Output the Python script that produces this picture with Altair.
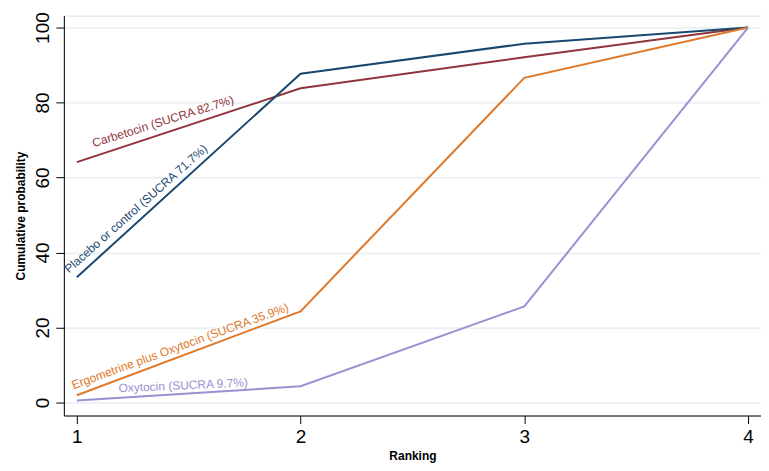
import altair as alt
import pandas as pd

ranks = [1, 2, 3, 4]
treatments = ["Carbetocin", "Placebo or control", "Ergometrine plus Oxytocin", "Oxytocin"]
carbetocin = [64.1, 83.8, 92.1, 100]
placebo = [33.4, 87.7, 95.7, 100]
ergometrine = [1.9, 24.3, 86.6, 100]
oxytocin = [0.5, 4.3, 25.6, 100]
colors = ["#90353B", "#1A476F", "#E0782A", "#9B90D2"]

label_texts = ["Carbetocin (SUCRA 82.7%)", "Placebo or control (SUCRA 71.7%)",
               "Ergometrine plus Oxytocin (SUCRA 35.9%)", "Oxytocin  (SUCRA 9.7%)"]
label_x = [1.076, 0.965, 0.985, 1.187]
label_y = [68.1, 34.4, 3.5, 2.7]
label_angle = [342.6, 318.4, 340.0, 357.4]

series = [carbetocin, placebo, ergometrine, oxytocin]
rows = []
for t, vals in zip(treatments, series):
    for r, v in zip(ranks, vals):
        rows.append({"treatment": t, "rank": r, "prob": v})
df = pd.DataFrame(rows)

xscale = alt.Scale(domain=[0.942, 4.058], nice=False, zero=False)
yscale = alt.Scale(domain=[-3.5, 103.2], nice=False, zero=False)
cscale = alt.Scale(domain=treatments, range=colors)

lines = alt.Chart(df).mark_line(strokeWidth=2).encode(
    x=alt.X("rank:Q", scale=xscale, title="Ranking",
            axis=alt.Axis(values=ranks, format="d", labelFontSize=19, labelFont="Liberation Sans",
                          labelColor="black", tickColor="black", tickSize=8, domainColor="black",
                          grid=False, titleFont="Liberation Sans", titleFontSize=12,
                          titleFontWeight="bold", titleColor="black", labelPadding=4,
                          titlePadding=4, labelFlush=False)),
    y=alt.Y("prob:Q", scale=yscale, title="Cumulative probability",
            axis=alt.Axis(values=[0, 20, 40, 60, 80, 100], labelFontSize=19,
                          labelFont="Liberation Sans", labelColor="black", labelAngle=270,
                          labelAlign="center", labelBaseline="bottom", labelPadding=3,
                          tickColor="black", tickSize=8, domainColor="black",
                          gridColor="#EAF2F3", gridWidth=2,
                          titleFont="Liberation Sans", titleFontSize=12, titleFontWeight="bold",
                          titleColor="black", titlePadding=6, labelFlush=False)),
    color=alt.Color("treatment:N", scale=cscale, legend=None),
    detail="treatment:N",
)

ldf = pd.DataFrame({"treatment": treatments, "text": label_texts, "x": label_x,
                    "y": label_y, "angle": label_angle})

texts = []
for i in range(len(treatments)):
    texts.append(
        alt.Chart(ldf.iloc[[i]]).mark_text(
            align="left", baseline="alphabetic", fontSize=12, font="Liberation Sans",
            angle=label_angle[i], color=colors[i]
        ).encode(
            x=alt.X("x:Q", scale=xscale),
            y=alt.Y("y:Q", scale=yscale),
            text="text:N",
        )
    )

chart = alt.layer(lines, *texts).properties(
    width=699, height=401,
    autosize=alt.AutoSizeParams(type="none"),
    padding={"left": 56, "top": 7, "right": 0, "bottom": 54},
).configure_view(stroke=None).configure(background="white")

chart.save("out.html", embed_options={"renderer": "svg", "actions": False})
